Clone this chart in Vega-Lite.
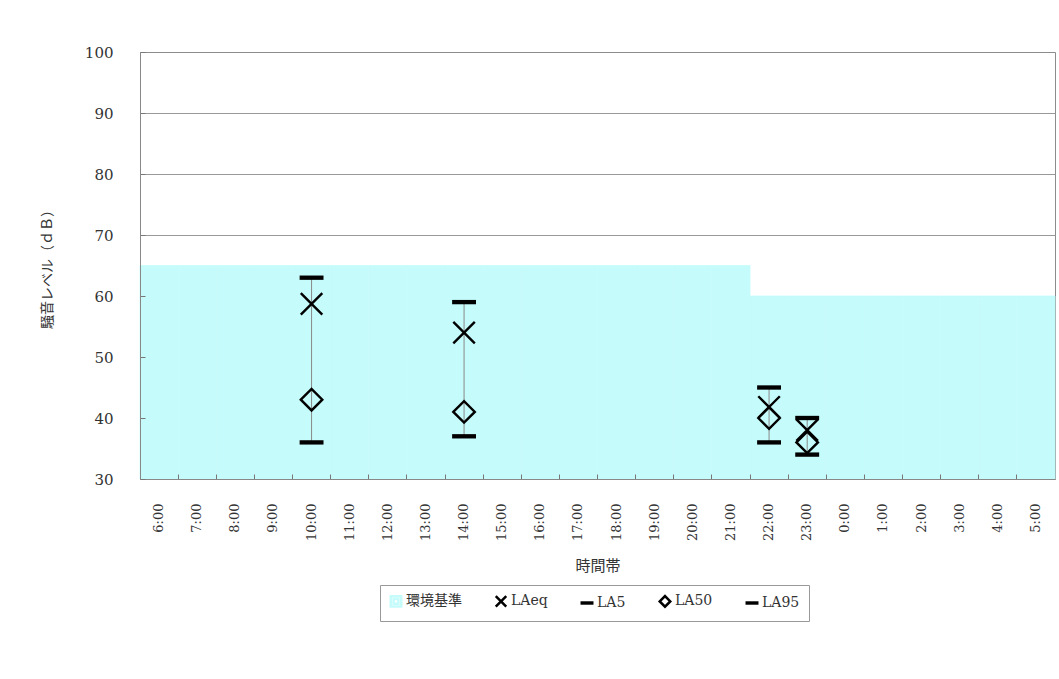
{
  "$schema": "https://vega.github.io/schema/vega-lite/v6.json",
  "width": 915,
  "height": 427,
  "autosize": "none",
  "padding": {"left": 140, "top": 52, "right": 4, "bottom": 200},
  "background": "white",
  "config": {
    "view": {"stroke": "#8c8c8c", "strokeWidth": 1}
  },
  "datasets": {
    "standard": [
      {"time": "6:00", "value": 65}, {"time": "7:00", "value": 65}, {"time": "8:00", "value": 65},
      {"time": "9:00", "value": 65}, {"time": "10:00", "value": 65}, {"time": "11:00", "value": 65},
      {"time": "12:00", "value": 65}, {"time": "13:00", "value": 65}, {"time": "14:00", "value": 65},
      {"time": "15:00", "value": 65}, {"time": "16:00", "value": 65}, {"time": "17:00", "value": 65},
      {"time": "18:00", "value": 65}, {"time": "19:00", "value": 65}, {"time": "20:00", "value": 65},
      {"time": "21:00", "value": 65}, {"time": "22:00", "value": 60}, {"time": "23:00", "value": 60},
      {"time": "0:00", "value": 60}, {"time": "1:00", "value": 60}, {"time": "2:00", "value": 60},
      {"time": "3:00", "value": 60}, {"time": "4:00", "value": 60}, {"time": "5:00", "value": 60}
    ],
    "ranges": [
      {"time": "10:00", "value": 36, "hi": 63},
      {"time": "14:00", "value": 37, "hi": 59},
      {"time": "22:00", "value": 36, "hi": 45},
      {"time": "23:00", "value": 34, "hi": 40}
    ],
    "levels": [
      {"time": "10:00", "series": "LAeq", "value": 58.7},
      {"time": "10:00", "series": "LA5", "value": 63},
      {"time": "10:00", "series": "LA50", "value": 43},
      {"time": "10:00", "series": "LA95", "value": 36},
      {"time": "14:00", "series": "LAeq", "value": 54},
      {"time": "14:00", "series": "LA5", "value": 59},
      {"time": "14:00", "series": "LA50", "value": 41},
      {"time": "14:00", "series": "LA95", "value": 37},
      {"time": "22:00", "series": "LAeq", "value": 41.8},
      {"time": "22:00", "series": "LA5", "value": 45},
      {"time": "22:00", "series": "LA50", "value": 40},
      {"time": "22:00", "series": "LA95", "value": 36},
      {"time": "23:00", "series": "LAeq", "value": 38},
      {"time": "23:00", "series": "LA5", "value": 40},
      {"time": "23:00", "series": "LA50", "value": 36},
      {"time": "23:00", "series": "LA95", "value": 34}
    ]
  },
  "encoding": {
    "x": {
      "field": "time",
      "type": "nominal",
      "title": "時間帯",
      "sort": ["6:00","7:00","8:00","9:00","10:00","11:00","12:00","13:00","14:00","15:00","16:00","17:00","18:00","19:00","20:00","21:00","22:00","23:00","0:00","1:00","2:00","3:00","4:00","5:00"],
      "scale": {"paddingInner": 0, "paddingOuter": 0},
      "axis": {
        "labelAngle": 270,
        "bandPosition": 0,
        "tickSize": -5,
        "tickColor": "#777",
        "domainColor": "#888",
        "labelPadding": 29,
        "labelFont": "DejaVu Serif",
        "labelFontSize": 13,
        "labelColor": "#333",
        "titleFont": "Noto Sans CJK JP",
        "titleFontSize": 15,
        "titleFontWeight": "normal",
        "titleColor": "#333",
        "titleY": 86,
        "titleBaseline": "middle",
        "grid": false,
        "zindex": 1
      }
    },
    "y": {
      "field": "value",
      "type": "quantitative",
      "title": "騒音レベル（ｄＢ）",
      "scale": {"domain": [30, 100], "nice": false, "zero": false},
      "axis": {
        "values": [30, 40, 50, 60, 70, 80, 90, 100],
        "grid": true,
        "gridColor": {"condition": {"test": "datum.value <= 60 || datum.value >= 100", "value": "transparent"}, "value": "#999"},
        "tickSize": -5,
        "tickColor": "#777",
        "domainColor": "#888",
        "labelPadding": 32,
        "labelFont": "DejaVu Serif",
        "labelFontSize": 15,
        "labelColor": "#333",
        "titleFont": "Noto Sans CJK JP",
        "titleFontSize": 14,
        "titleFontWeight": "normal",
        "titleColor": "#333",
        "titleX": -93,
        "titleY": 213.5,
        "titleBaseline": "middle",
        "titleAngle": 270,
        "zindex": 1
      }
    }
  },
  "layer": [
    {
      "data": {"name": "standard"},
      "mark": {"type": "bar", "color": "#c6fbfb", "stroke": "#c6fbfb", "strokeWidth": 0.8},
      "encoding": {
        "y2": {"datum": 30}
      }
    },
    {
      "data": {"name": "ranges"},
      "mark": {"type": "rule", "color": "#888", "strokeWidth": 1},
      "encoding": {
        "y2": {"field": "hi"}
      }
    },
    {
      "data": {"name": "levels"},
      "mark": {"type": "point", "filled": false, "strokeWidth": 2.4, "opacity": 1, "size": 462},
      "encoding": {
        "shape": {
          "field": "series",
          "type": "nominal",
          "scale": {
            "domain": ["環境基準", "LAeq", "LA5", "LA50", "LA95"],
            "range": ["M-1,-1H1V1H-1Z M-0.45,-0.45H0.45V0.45H-0.45Z", "M-1,-1L1,1M-1,1L1,-1", "M-1,-0.09L1,-0.09L1,0.09L-1,0.09Z", "diamond", "M-1,-0.09L1,-0.09L1,0.09L-1,0.09Z"]
          },
          "legend": {
            "title": null,
            "orient": "none",
            "legendX": 240,
            "legendY": 533,
            "direction": "horizontal",
            "columns": 5,
            "columnPadding": 28,
            "padding": 9,
            "strokeColor": "#999",
            "fillColor": "white",
            "labelFont": "DejaVu Serif, Noto Sans CJK JP",
            "labelFontSize": 14,
            "labelColor": "#333",
            "symbolSize": 110,
            "symbolStrokeWidth": 2.5,
            "symbolFillColor": "transparent",
            "labelOffset": 3
          }
        },
        "color": {
          "field": "series",
          "type": "nominal",
          "scale": {
            "domain": ["環境基準", "LAeq", "LA5", "LA50", "LA95"],
            "range": ["#c6fbfb", "#000000", "#000000", "#000000", "#000000"]
          },
          "legend": {
            "title": null,
            "orient": "none",
            "legendX": 240,
            "legendY": 533,
            "direction": "horizontal",
            "columns": 5,
            "columnPadding": 28,
            "padding": 9,
            "strokeColor": "#999",
            "fillColor": "white",
            "labelFont": "DejaVu Serif, Noto Sans CJK JP",
            "labelFontSize": 14,
            "labelColor": "#333",
            "symbolSize": 110,
            "symbolStrokeWidth": 2.5,
            "symbolFillColor": "transparent",
            "labelOffset": 3
          }
        }
      }
    }
  ]
}
